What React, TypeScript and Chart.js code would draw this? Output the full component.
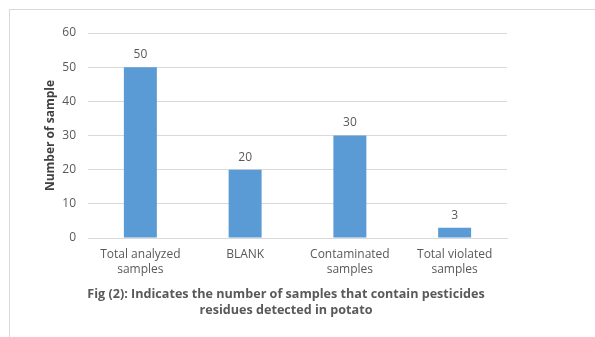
import React, { useEffect, useRef } from "react";
import { Chart, registerables } from "chart.js";

Chart.register(...registerables);

const categories: string[][] = [
  ["Total analyzed", "samples"],
  ["BLANK"],
  ["Contaminated", "samples"],
  ["Total violated", "samples"],
];
const sampleCounts: number[] = [50, 20, 30, 3];
const yTicks: number[] = [0, 10, 20, 30, 40, 50, 60];
const yTitle = "Number of sample";
const captionLines: string[] = [
  "Fig (2): Indicates the number of samples that contain pesticides",
  "residues detected in potato",
];

const FONT = "'Open Sans', 'DejaVu Sans', sans-serif";
const GRAY = "#595959";

const valueLabels = {
  id: "valueLabels",
  afterDatasetsDraw(chart: any) {
    const ctx = chart.ctx;
    const meta = chart.getDatasetMeta(0);
    ctx.save();
    ctx.font = `12px ${FONT}`;
    ctx.fillStyle = GRAY;
    ctx.textAlign = "center";
    ctx.textBaseline = "middle";
    meta.data.forEach((el: any, i: number) => {
      ctx.fillText(String(chart.data.datasets[0].data[i]), el.x, el.y - 12.5);
    });
    ctx.restore();
  },
};

export default function App() {
  const ref = useRef<HTMLCanvasElement | null>(null);
  useEffect(() => {
    if (!ref.current) return;
    const chart = new Chart(ref.current, {
      type: "bar",
      data: {
        labels: categories,
        datasets: [
          {
            data: sampleCounts,
            backgroundColor: "#5b9bd5",
            categoryPercentage: 0.5,
            barPercentage: 0.63,
          },
        ],
      },
      options: {
        responsive: false,
        animation: false,
        layout: { padding: { left: 40, right: 88, top: 33, bottom: 54 } },
        plugins: {
          legend: { display: false },
          tooltip: { enabled: false },
          title: { display: false },
        },
        scales: {
          x: {
            grid: { display: false, drawTicks: false },
            border: { color: "#d9d9d9" },
            ticks: {
              color: GRAY,
              font: { family: FONT, size: 12, lineHeight: 1.25 },
              padding: 9,
              maxRotation: 0,
              autoSkip: false,
            },
            afterFit: (s: any) => {
              s.height = 45;
            },
          },
          y: {
            min: 0,
            max: 60,
            afterBuildTicks: (s: any) => {
              s.ticks = yTicks.map((v) => ({ value: v }));
            },
            grid: { color: "#d9d9d9", drawTicks: false },
            border: { display: false },
            ticks: {
              color: GRAY,
              font: { family: FONT, size: 12 },
              padding: 12,
            },
            title: {
              display: true,
              text: yTitle,
              color: "#404040",
              font: { family: FONT, size: 12, weight: "bold" },
              padding: { top: 3, bottom: 3 },
            },
            afterFit: (s: any) => {
              s.width = 48;
            },
          },
        },
      },
      plugins: [valueLabels],
    });
    return () => chart.destroy();
  }, []);

  return (
    <div
      style={{
        position: "fixed",
        left: 0,
        top: 0,
        width: 595,
        height: 337,
        background: "#fff",
        overflow: "hidden",
      }}
    >
      <div
        style={{
          position: "absolute",
          left: 9,
          top: 9,
          width: 620,
          height: 360,
          border: "1px solid #d9d9d9",
          boxSizing: "border-box",
        }}
      />
      <canvas
        ref={ref}
        width={595}
        height={337}
        style={{ position: "absolute", left: 0, top: 0 }}
      />
      <div
        style={{
          position: "absolute",
          left: 0,
          width: 572,
          top: 286,
          textAlign: "center",
          fontFamily: FONT,
          fontWeight: "bold",
          fontSize: 12.6,
          lineHeight: "16px",
          color: GRAY,
        }}
      >
        {captionLines.map((l, i) => (
          <div key={i}>{l}</div>
        ))}
      </div>
    </div>
  );
}
